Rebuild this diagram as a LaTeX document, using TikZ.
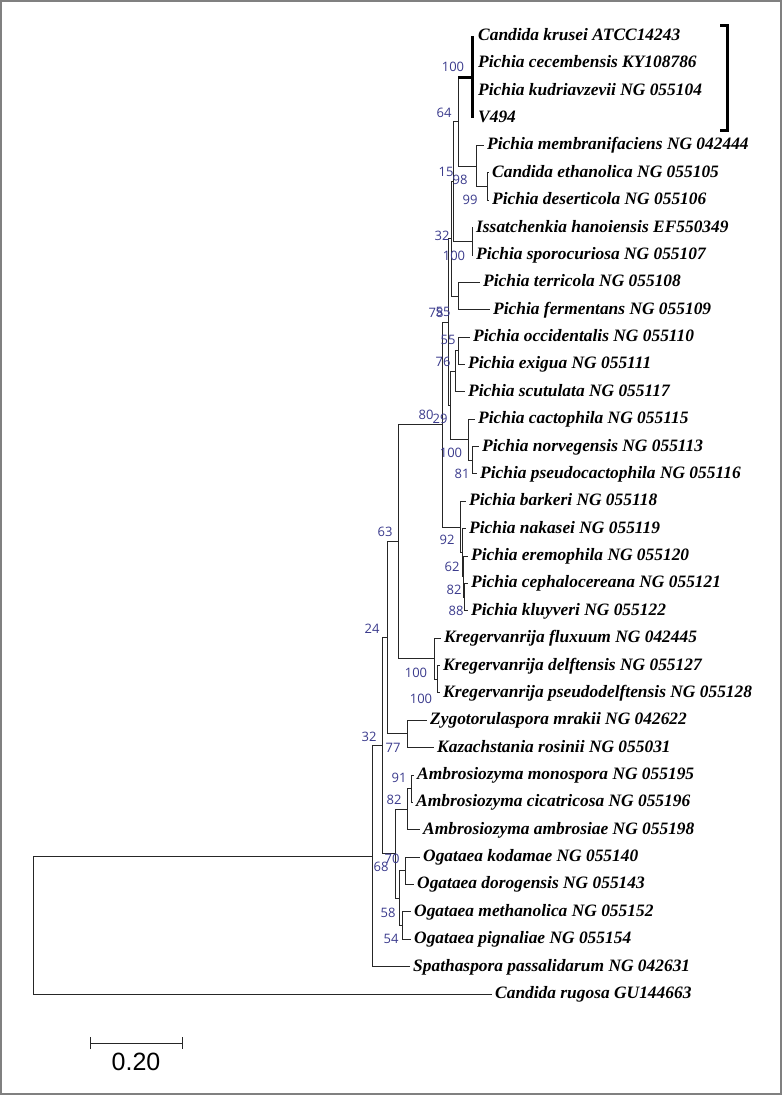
\documentclass[tikz,border=0pt]{standalone}
\usepackage{fontspec}
\setmainfont{Liberation Serif}
\newfontfamily\bootfont{Open Sans}
\newfontfamily\barfont{Liberation Sans}
\usetikzlibrary{calc}
\usetikzlibrary{arrows.meta}
\definecolor{bootblue}{RGB}{58,58,140}
\tikzset{
  taxon/.style={anchor=west, inner xsep=3pt, inner ysep=0pt, text height=12pt, text depth=3pt,
    font=\bfseries\itshape\fontsize{17.4}{17.4}\selectfont},
  boot/.style={inner sep=0pt, text=bootblue, font=\bootfont\fontsize{13}{13}\selectfont},
  branch/.style={line width=0.9pt, black!85},
  thickbr/.style={line width=3pt, black},
}

\begin{document}
\begin{tikzpicture}[x=1pt, y=-1pt]
    \useasboundingbox (0,0) rectangle (782,1095);
    \draw [gray, line width=2pt] (1,1) rectangle (781,1094);

    % taxa, one row each
    \foreach \n/\x/\t in {1/475/{Candida krusei ATCC14243}, 2/475/{Pichia cecembensis KY108786},
        3/475/{Pichia kudriavzevii NG 055104}, 4/475/{V494},
        5/484/{Pichia membranifaciens NG 042444}, 6/489/{Candida ethanolica NG 055105},
        7/489/{Pichia deserticola NG 055106}, 8/473/{Issatchenkia hanoiensis EF550349},
        9/473/{Pichia sporocuriosa NG 055107}, 10/480/{Pichia terricola NG 055108},
        11/490/{Pichia fermentans NG 055109}, 12/470/{Pichia occidentalis NG 055110},
        13/465/{Pichia exigua NG 055111}, 14/465/{Pichia scutulata NG 055117},
        15/475/{Pichia cactophila NG 055115}, 16/479/{Pichia norvegensis NG 055113},
        17/477/{Pichia pseudocactophila NG 055116}, 18/466/{Pichia barkeri NG 055118},
        19/466/{Pichia nakasei NG 055119}, 20/468/{Pichia eremophila NG 055120},
        21/468/{Pichia cephalocereana NG 055121}, 22/468/{Pichia kluyveri NG 055122},
        23/441/{Kregervanrija fluxuum NG 042445}, 24/440/{Kregervanrija delftensis NG 055127},
        25/440/{Kregervanrija pseudodelftensis NG 055128}, 26/427/{Zygotorulaspora mrakii NG 042622},
        27/434/{Kazachstania rosinii NG 055031}, 28/414/{Ambrosiozyma monospora NG 055195},
        29/413/{Ambrosiozyma cicatricosa NG 055196}, 30/420/{Ambrosiozyma ambrosiae NG 055198},
        31/420/{Ogataea kodamae NG 055140}, 32/414/{Ogataea dorogensis NG 055143},
        33/411/{Ogataea methanolica NG 055152}, 34/411/{Ogataea pignaliae NG 055154},
        35/410/{Spathaspora passalidarum NG 042631}, 36/492/{Candida rugosa GU144663}}{
        \pgfmathsetmacro{\y}{36+(\n-1)*27.37}
        \node [taxon] (t\n) at (\x,\y) {\t};
    }

    % inner nodes
    \coordinate (R0) at (33,925.1);
    \coordinate (R1) at (372,856.2);
    \coordinate (N32) at (382,745.8);
    \coordinate (N24) at (387,637.8);
    \coordinate (N63) at (398,541.6);
    \coordinate (P) at (442,424.5);
    \coordinate (Q) at (448,322.1);
    \coordinate (B0) at (451,238.7);
    \coordinate (B) at (453,181.4);
    \coordinate (A) at (458,121.5);
    \coordinate (T1) at (472,77.1);
    \coordinate (C) at (476,166.0);
    \coordinate (D) at (487,186.5);
    \coordinate (E) at (472,241.3);
    \coordinate (F) at (458,296.0);
    \coordinate (H) at (450,405.5);
    \coordinate (G) at (455,371.3);
    \coordinate (G1) at (458,350.8);
    \coordinate (Kc) at (468,439.7);
    \coordinate (Kc1) at (472,460.3);
    \coordinate (W) at (460,527.0);
    \coordinate (W1) at (462,552.6);
    \coordinate (W2) at (463,576.5);
    \coordinate (W3) at (464,597.1);
    \coordinate (K) at (434,658.6);
    \coordinate (K2) at (437,679.2);
    \coordinate (Z) at (407,733.9);
    \coordinate (O0) at (395,853.7);
    \coordinate (M1) at (407,809.2);
    \coordinate (M2) at (411,788.7);
    \coordinate (O1) at (399,898.2);
    \coordinate (O2) at (405,870.8);
    \coordinate (O3) at (402,925.5);

    % branches
    \foreach \p/\c in {R0/R1, R1/N32, N32/N24, N32/O0, N24/N63, N24/Z, N63/P, N63/K,
        P/Q, P/W, Q/B0, Q/H, B0/B, B0/F, B/A, B/E, A/T1, A/C, C/D, H/G, H/Kc, G/G1,
        Kc/Kc1, W/W1, W1/W2, W2/W3, K/K2, O0/M1, O0/O1, M1/M2, O1/O2, O1/O3}
        \draw [branch] (\p) |- (\c);
    \foreach \p/\c in {R0/36, R1/35, C/5, D/6, D/7, E/8, E/9, F/10, F/11, G1/12, G1/13,
        G/14, Kc/15, Kc1/16, Kc1/17, W/18, W1/19, W2/20, W3/21, W3/22, K/23, K2/24,
        K2/25, Z/26, Z/27, M2/28, M2/29, M1/30, O2/31, O2/32, O3/33, O3/34}
        \draw [branch] (\p) |- (t\c.west);

    % clade with no length
    \draw [thickbr] (A |- T1) -- (T1);
    \draw [thickbr] (t1.west -| T1) -- (t4.west -| T1);

    % bracket on the right
    \coordinate (br1) at (720,25);
    \coordinate (br2) at (720,130);
    \draw [thickbr] (br1) -- ++(7,0) |- (br2);

    % bootstrap values
    \foreach \n/\x/\y/\v in {1/453/67/100, 2/444/113/64, 3/446/172/15, 4/460/180/98,
        5/470/200/99, 6/442/236/32, 7/454/256/100, 8/436/313/78, 9/443/312/55,
        10/448/340/55, 11/443/362/76, 12/426/415/80, 13/440/419/29, 14/451/453/100,
        15/462/474/81, 16/385/532/63, 17/447/540/92, 18/452/567/62, 19/454/590/82,
        20/456/611/88, 21/372/629/24, 22/416/673/100, 23/421/699/100, 24/369/737/32,
        25/393/748/77, 26/399/778/91, 27/394/800/82, 28/392/859/70, 29/381/867/68,
        30/388/913/58, 31/391/939/54}
        \node [boot] (bs\n) at (\x,\y) {\v};

    % scale
    \coordinate (sb1) at (90,1043);
    \coordinate (sb2) at (183,1043);
    \draw [branch, {Bar[width=12pt]}-{Bar[width=12pt]}] (sb1) -- (sb2);
    \node [font=\barfont\fontsize{25}{25}\selectfont] (sbl) at (136,1062) {0.20};
\end{tikzpicture}
\end{document}
